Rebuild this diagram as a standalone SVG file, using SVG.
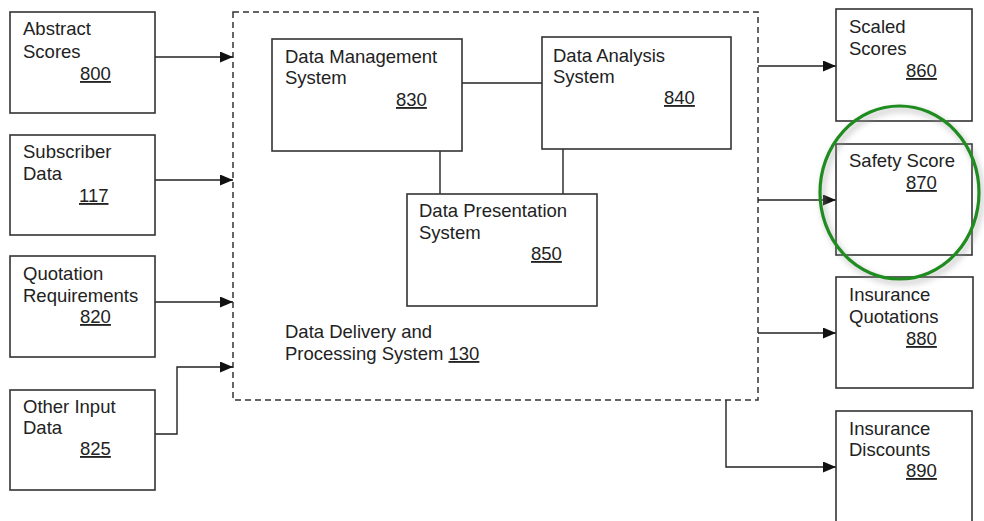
<svg xmlns="http://www.w3.org/2000/svg" width="984" height="521" viewBox="0 0 984 521">
<defs>
<marker id="ah" viewBox="0 0 13 11" refX="13" refY="5.5" markerWidth="13" markerHeight="11" markerUnits="userSpaceOnUse" orient="auto">
<path d="M0,0 L13,5.5 L0,11 z" fill="#111"/>
</marker>
<filter id="sh" x="-20%" y="-20%" width="140%" height="140%">
<feGaussianBlur stdDeviation="3"/>
</filter>
</defs>
<style>
.box{fill:#fff;stroke:#333;stroke-width:1.6}
.t{font-family:"Liberation Sans",Arial,sans-serif;font-size:18.5px;fill:#222}
.n{text-decoration:underline}
.c{fill:none;stroke:#222;stroke-width:1.4}
.a{fill:none;stroke:#222;stroke-width:1.4;marker-end:url(#ah)}
</style>
<rect width="984" height="521" fill="#fff"/>
<g id="system130">
<rect x="233" y="12" width="525" height="388" fill="none" stroke="#333" stroke-width="1.5" stroke-dasharray="6,4"/>
<text class="t" x="285" y="338">Data Delivery and</text>
<text class="t" x="285" y="360">Processing System <tspan class="n">130</tspan></text>
</g>
<g id="connectors">
<path class="a" d="M155,57 H233"/>
<path class="a" d="M155,180 H233"/>
<path class="a" d="M155,302 H233"/>
<path class="a" d="M155,434 H177 V367 H233"/>
<path class="c" d="M462,83 H542"/>
<path class="c" d="M440,151 V194"/>
<path class="c" d="M563,149 V194"/>
<path class="a" d="M758,66 H836"/>
<path class="a" d="M758,200 H836"/>
<path class="a" d="M758,333 H836"/>
<path class="a" d="M726,400 V467 H836"/>
</g>
<g id="n800">
<rect class="box" x="10" y="12" width="145" height="101"/>
<text class="t" x="23" y="35">Abstract</text>
<text class="t" x="23" y="58">Scores</text>
<text class="t n" x="80" y="80">800</text>
</g>
<g id="n117">
<rect class="box" x="10" y="135" width="145" height="100"/>
<text class="t" x="23" y="158">Subscriber</text>
<text class="t" x="23" y="180">Data</text>
<text class="t n" x="79" y="202">117</text>
</g>
<g id="n820">
<rect class="box" x="10" y="256" width="145" height="101"/>
<text class="t" x="23" y="280">Quotation</text>
<text class="t" x="23" y="302">Requirements</text>
<text class="t n" x="80" y="323">820</text>
</g>
<g id="n825">
<rect class="box" x="10" y="390" width="145" height="100"/>
<text class="t" x="23" y="413">Other Input</text>
<text class="t" x="23" y="434">Data</text>
<text class="t n" x="80" y="455">825</text>
</g>
<g id="n830">
<rect class="box" x="272" y="39" width="190" height="112"/>
<text class="t" x="285" y="63">Data Management</text>
<text class="t" x="285" y="84">System</text>
<text class="t n" x="396" y="106">830</text>
</g>
<g id="n840">
<rect class="box" x="542" y="37" width="189" height="112"/>
<text class="t" x="553" y="62">Data Analysis</text>
<text class="t" x="553" y="83">System</text>
<text class="t n" x="664" y="104">840</text>
</g>
<g id="n850">
<rect class="box" x="407" y="194" width="190" height="112"/>
<text class="t" x="419" y="217">Data Presentation</text>
<text class="t" x="419" y="239">System</text>
<text class="t n" x="531" y="260">850</text>
</g>
<g id="n860">
<rect class="box" x="836" y="9" width="136" height="112"/>
<text class="t" x="849" y="33">Scaled</text>
<text class="t" x="849" y="55">Scores</text>
<text class="t n" x="906" y="77">860</text>
</g>
<g id="n870">
<rect class="box" x="836" y="144" width="136" height="111"/>
<text class="t" x="849" y="167">Safety Score</text>
<text class="t n" x="906" y="189">870</text>
</g>
<g id="n880">
<rect class="box" x="836" y="277" width="137" height="111"/>
<text class="t" x="849" y="301">Insurance</text>
<text class="t" x="849" y="323">Quotations</text>
<text class="t n" x="906" y="345">880</text>
</g>
<g id="n890">
<rect class="box" x="836" y="411" width="136" height="125"/>
<text class="t" x="849" y="435">Insurance</text>
<text class="t" x="849" y="456">Discounts</text>
<text class="t n" x="906" y="477">890</text>
</g>
<g id="highlight">
<ellipse cx="902" cy="196" rx="79.5" ry="86.5" fill="none" stroke="#999" stroke-width="4" opacity="0.6" filter="url(#sh)"/>
<ellipse cx="899.5" cy="192.5" rx="79.5" ry="86.5" fill="none" stroke="#1f8c1f" stroke-width="3.2"/>
</g>
</svg>
